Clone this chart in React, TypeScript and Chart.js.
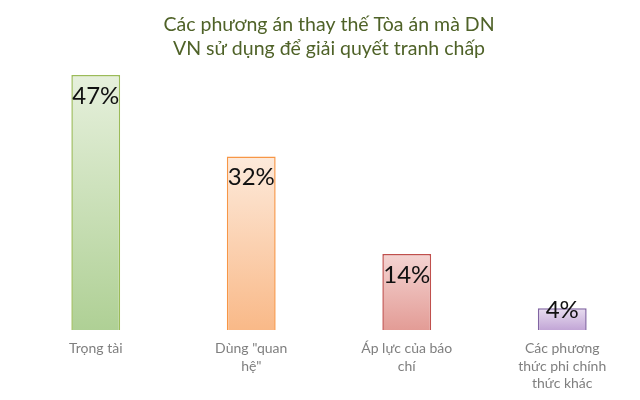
import { useEffect, useRef } from "react"
import { Chart, registerables } from "chart.js"

Chart.register(...registerables)

const categories = [
  ["Trọng tài"],
  ['Dùng "quan', 'hệ"'],
  ["Áp lực của báo", "chí"],
  ["Các phương", "thức phi chính", "thức khác"],
]
const values = [47, 32, 14, 4]
const title = ["Các phương án thay thế Tòa án mà DN", "VN sử dụng để giải quyết tranh chấp"]

const topColors = ["#E6F0DC", "#FDEADB", "#F4D4D2", "#E8DDF0"]
const bottomColors = ["#AFD095", "#F9B988", "#E39C96", "#C2A6D6"]
const borderColors = ["#9BBB59", "#F79646", "#C0504D", "#8064A2"]

const valueLabels = {
  id: "valueLabels",
  afterDatasetsDraw(chart: Chart) {
    const ctx = chart.ctx
    const meta = chart.getDatasetMeta(0)
    ctx.save()
    ctx.font = "24px Lato"
    ctx.fillStyle = "#111"
    ctx.textAlign = "center"
    ctx.textBaseline = "middle"
    meta.data.forEach((bar: any, i: number) => {
      const y = Math.min(bar.y + 21, bar.base - 20)
      ctx.fillText(values[i] + "%", bar.x, y)
    })
    ctx.restore()
  },
}

export default function App() {
  const chartRef = useRef<HTMLCanvasElement>(null)
  const chartInstance = useRef<Chart | null>(null)

  useEffect(() => {
    document.body.style.margin = "0"
    if (!chartRef.current) return
    if (chartInstance.current) chartInstance.current.destroy()
    const ctx = chartRef.current.getContext("2d")
    if (!ctx) return

    chartInstance.current = new Chart(ctx, {
      type: "bar",
      data: {
        labels: categories,
        datasets: [
          {
            data: values,
            backgroundColor: (c: any) => {
              const chart = c.chart
              if (!chart.chartArea || c.dataIndex === undefined) return topColors[0]
              const y = chart.scales.y
              const top = y.getPixelForValue(values[c.dataIndex])
              const base = y.getPixelForValue(0)
              const g = chart.ctx.createLinearGradient(0, top, 0, base)
              g.addColorStop(0, topColors[c.dataIndex])
              g.addColorStop(1, bottomColors[c.dataIndex])
              return g
            },
            borderColor: borderColors,
            borderWidth: 1.5,
            categoryPercentage: 1,
            barPercentage: 0.314,
          },
        ],
      },
      options: {
        responsive: true,
        maintainAspectRatio: false,
        animation: false,
        layout: { padding: { left: 18, right: 0, top: 8, bottom: 0 } },
        plugins: {
          legend: { display: false },
          tooltip: { enabled: false },
          title: {
            display: true,
            text: title,
            color: "#4F6228",
            font: { family: "Lato", size: 19.5, weight: "normal", lineHeight: 1.27 },
            padding: { top: 4, bottom: 0 },
          },
        },
        scales: {
          x: {
            grid: { display: false, drawTicks: false },
            border: { display: false },
            afterFit: (scale: any) => {
              scale.height = 70
            },
            ticks: {
              color: "#7F7F7F",
              font: { family: "Lato", size: 14, lineHeight: 1.25 },
              maxRotation: 0,
              padding: 10,
            },
          },
          y: { display: false, min: 0, max: 49.5 },
        },
      },
      plugins: [valueLabels],
    })

    return () => {
      if (chartInstance.current) {
        chartInstance.current.destroy()
        chartInstance.current = null
      }
    }
  }, [])

  return (
    <div style={{ width: 640, height: 400, background: "#fff" }}>
      <canvas ref={chartRef} />
    </div>
  )
}
